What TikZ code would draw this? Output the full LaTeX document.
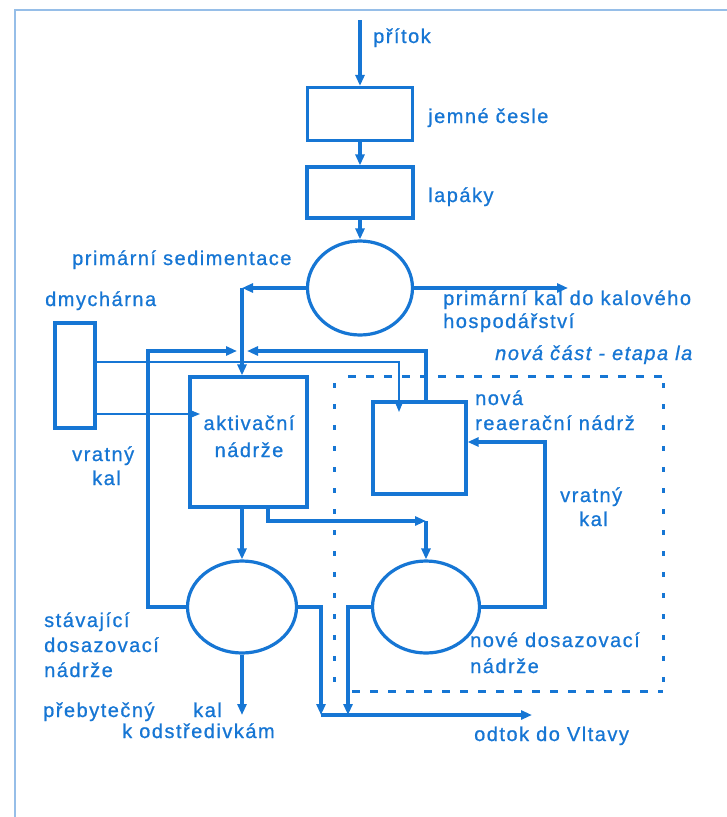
\documentclass[tikz,border=0pt]{standalone}
\usepackage{fontspec}
\setmainfont{Liberation Sans}[LetterSpace=7.5,FakeBold=0.8]
\usetikzlibrary{arrows.meta,shapes.geometric}
\definecolor{ink}{RGB}{22,118,212}
\definecolor{framec}{RGB}{150,190,232}
\begin{document}
\begin{tikzpicture}[x=1pt,y=-1pt,
  ln/.style={draw=ink,line width=3.2pt},
  ar/.style={ln,-{Triangle[length=11pt,width=9pt]}},
  thinar/.style={draw=ink,line width=1.3pt,-{Triangle[length=9pt,width=7pt]}},
  box/.style={draw=ink,line width=3.2pt,rectangle,inner sep=0pt},
  oval/.style={draw=ink,line width=3.2pt,ellipse,inner sep=0pt},
  lbl/.style={text=ink,font=\fontsize{20}{25}\selectfont,inner sep=0pt,anchor=base west},
  hdash/.style={draw=ink,line width=3pt,dash pattern=on 8pt off 10pt},
  vdash/.style={draw=ink,line width=3pt,dash pattern=on 5pt off 16pt},
]
\useasboundingbox (0,0) rectangle (727,817);
\fill[white] (0,0) rectangle (727,817);
% frame
\draw[framec,line width=1.2pt] (15,817) -- (15,10) -- (727,10);

% nodes
\node[box,minimum width=105pt,minimum height=53pt] (ces) at (360,114) {};
\node[box,minimum width=106pt,minimum height=51pt] (lap) at (360,192.5) {};
\node[oval,minimum width=105pt,minimum height=94pt] (sed) at (360,288) {};
\node[box,minimum width=40pt,minimum height=105pt] (dmy) at (75,375.5) {};
\node[box,minimum width=117pt,minimum height=130pt] (act) at (248.5,442) {};
\node[box,minimum width=93pt,minimum height=92pt] (rea) at (419.5,448) {};
\node[oval,minimum width=109pt,minimum height=92pt] (st) at (242,607) {};
\node[oval,minimum width=107pt,minimum height=92pt] (nd) at (426,607) {};

% coordinates
\coordinate (in) at (360,20);
\coordinate (j1) at (242,288);
\coordinate (pk) at (568,288);
\coordinate (jl) at (237,351);
\coordinate (jr) at (247,351);
\coordinate (lx) at (148,351);
\coordinate (rx) at (426,351);
\coordinate (t1) at (399,362);
\coordinate (t1e) at (399,412);
\coordinate (t2) at (200,414);
\coordinate (ax) at (242,0);
\coordinate (bx) at (268,521);
\coordinate (c521) at (426,521);
\coordinate (kal) at (242,715);
\coordinate (o1) at (321,607);
\coordinate (o1e) at (321,715);
\coordinate (o2) at (348,607);
\coordinate (o2e) at (348,715);
\coordinate (out) at (532,715);
\coordinate (vx) at (545,442);

% connectors
\draw[ar] (in) -- (ces.north);
\draw[ar] (ces.south) -- (lap.north);
\draw[ar] (lap.south) -- (sed.north);
\draw[ar] (sed.west) -- (j1);
\draw[ar] (j1) -- (j1 |- act.north);
\draw[ar] (sed.east) -- (pk);
\draw[ar] (st.west) -| (lx) -- (jl);
\draw[ar] (rx |- rea.north) -- (rx) -- (jr);
\draw[thinar] (dmy.east |- t1) -- (t1) -- (t1e);
\draw[thinar] (dmy.east |- t2) -- (t2);
\draw[ar] (act.south -| ax) -- (st.north);
\draw[ar] (act.south -| bx) -- (bx) -- (c521);
\draw[ar] (c521) -- (nd.north);
\draw[ar] (st.south) -- (kal);
\draw[ar] (st.east) -- (o1) -- (o1e);
\draw[ar] (nd.west) -- (o2) -- (o2e);
\draw[ar] (o1e) -- (out);
\draw[ar] (nd.east) -| (vx) -- (vx -| rea.east);

% dashed boundary
\draw[hdash] (348,376) -- (663,376);
\draw[hdash] (352,691) -- (663,691);
\draw[vdash] (663,383) -- (663,691);
\draw[vdash] (334,383) -- (334,690);

% labels
\node[lbl] (l1) at (373,43) {přítok};
\node[lbl] (l2) at (428,123) {jemné česle};
\node[lbl] (l3) at (428,202) {lapáky};
\node[lbl] (l4) at (72,265) {primární sedimentace};
\node[lbl] (l5) at (45,306) {dmychárna};
\node[lbl] (l6) at (443,305) {primární kal do kalového};
\node[lbl] (l7) at (443,328) {hospodářství};
\node[lbl,font=\fontsize{20}{25}\selectfont\itshape] (l8) at (495,360) {nová část - etapa la};
\node[lbl] (l9) at (475,405) {nová};
\node[lbl] (l10) at (475,430) {reaerační nádrž};
\node[lbl] (l11) at (72,461) {vratný};
\node[lbl] (l12) at (92,485) {kal};
\node[lbl,anchor=base] (l13) at (249,430) {aktivační};
\node[lbl,anchor=base] (l14) at (249,457) {nádrže};
\node[lbl] (l15) at (560,502) {vratný};
\node[lbl] (l16) at (579,526) {kal};
\node[lbl] (l17) at (44,627) {stávající};
\node[lbl] (l18) at (44,652) {dosazovací};
\node[lbl] (l19) at (44,677) {nádrže};
\node[lbl] (l20) at (470,647) {nové dosazovací};
\node[lbl] (l21) at (470,673) {nádrže};
\node[lbl] (l22) at (43,717) {přebytečný};
\node[lbl] (l23) at (193,717) {kal};
\node[lbl] (l24) at (122,738) {k odstředivkám};
\node[lbl] (l25) at (474,741) {odtok do Vltavy};
\end{tikzpicture}
\end{document}
